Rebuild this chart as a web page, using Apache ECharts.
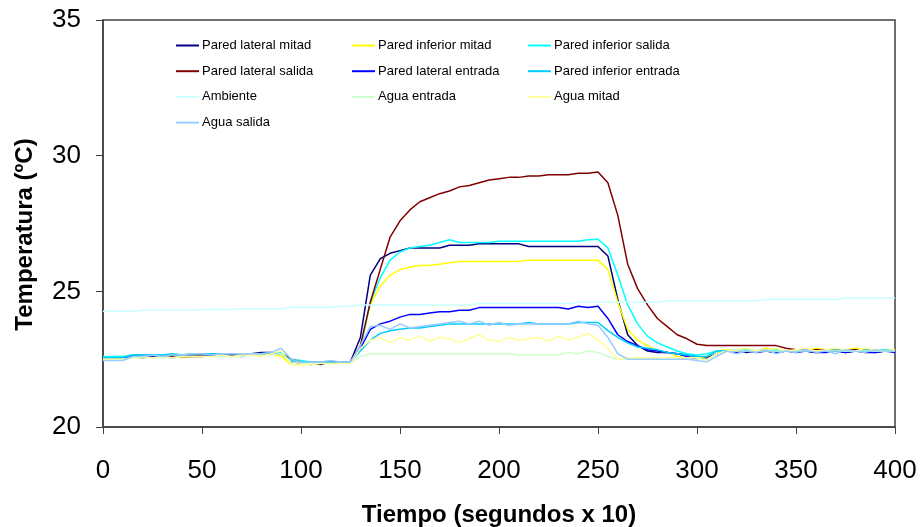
<!DOCTYPE html>
<html>
<head>
<meta charset="utf-8">
<script src="https://cdn.jsdelivr.net/npm/echarts@6/dist/echarts.min.js"></script>
<style>
  html, body { margin: 0; padding: 0; background: #fff; }
  #chart { width: 923px; height: 527px; }
</style>
</head>
<body>
<div id="chart"></div>
<script>
// eje x: tiempo (segundos x 10)
var tiempo = [0,5,10,15,20,25,30,35,40,45,
  50,55,60,65,70,75,80,85,90,95,
  100,105,110,115,120,125,130,135,140,145,
  150,155,160,165,170,175,180,185,190,195,
  200,205,210,215,220,225,230,235,240,245,
  250,255,260,265,270,275,280,285,290,295,
  300,305,310,315,320,325,330,335,340,345,
  350,355,360,365,370,375,380,385,390,395,
  400];

var paredLateralMitad = [22.5,22.5,22.5,22.65,22.65,22.65,22.6,22.65,22.65,22.65,
  22.7,22.7,22.7,22.7,22.7,22.7,22.75,22.75,22.7,22.45,
  22.4,22.35,22.3,22.4,22.35,22.4,23.3,25.6,26.2,26.4,
  26.5,26.6,26.6,26.6,26.6,26.7,26.7,26.7,26.75,26.75,
  26.75,26.75,26.75,26.65,26.65,26.65,26.65,26.65,26.65,26.65,
  26.65,26.3,24.7,23.4,23.0,22.8,22.75,22.75,22.7,22.65,
  22.6,22.55,22.7,22.8,22.8,22.75,22.8,22.8,22.75,22.8,
  22.8,22.8,22.75,22.8,22.8,22.75,22.8,22.8,22.75,22.8,
  22.8];
var paredInferiorMitad = [22.55,22.55,22.55,22.6,22.55,22.6,22.6,22.6,22.55,22.6,
  22.6,22.65,22.6,22.65,22.65,22.65,22.65,22.7,22.6,22.3,
  22.3,22.3,22.35,22.35,22.4,22.4,22.9,24.5,25.2,25.6,
  25.8,25.9,25.95,25.95,26.0,26.05,26.1,26.1,26.1,26.1,
  26.1,26.1,26.1,26.15,26.15,26.15,26.15,26.15,26.15,26.15,
  26.15,25.8,24.6,23.6,23.2,23.0,22.8,22.75,22.6,22.55,
  22.55,22.6,22.8,22.85,22.8,22.85,22.8,22.9,22.85,22.8,
  22.85,22.8,22.9,22.85,22.8,22.85,22.9,22.85,22.8,22.85,
  22.85];
var paredInferiorSalida = [22.6,22.6,22.6,22.65,22.65,22.65,22.65,22.65,22.65,22.7,
  22.7,22.7,22.7,22.7,22.7,22.7,22.7,22.7,22.75,22.5,
  22.45,22.4,22.4,22.4,22.4,22.4,22.9,24.6,25.5,26.15,
  26.45,26.6,26.65,26.7,26.8,26.9,26.8,26.8,26.8,26.8,
  26.85,26.85,26.85,26.85,26.85,26.85,26.85,26.85,26.85,26.9,
  26.92,26.6,25.6,24.5,23.8,23.35,23.1,22.95,22.8,22.7,
  22.65,22.7,22.8,22.8,22.8,22.85,22.8,22.8,22.85,22.8,
  22.85,22.8,22.8,22.85,22.8,22.8,22.85,22.8,22.8,22.85,
  22.8];
var paredLateralSalida = [22.55,22.55,22.55,22.6,22.6,22.6,22.6,22.6,22.6,22.6,
  22.65,22.65,22.65,22.65,22.65,22.7,22.7,22.7,22.7,22.5,
  22.4,22.35,22.35,22.4,22.4,22.4,23.0,24.6,25.8,27.0,
  27.6,28.0,28.3,28.45,28.6,28.7,28.85,28.9,29.0,29.1,
  29.15,29.2,29.2,29.25,29.25,29.3,29.3,29.3,29.35,29.35,
  29.4,29.0,27.8,26.0,25.1,24.5,24.0,23.7,23.4,23.25,
  23.05,23.0,23.0,23.0,23.0,23.0,23.0,23.0,23.0,22.9,
  22.85,22.85,22.85,22.85,22.85,22.85,22.85,22.85,22.8,22.8,
  22.8];
var paredLateralEntrada = [22.5,22.5,22.5,22.6,22.55,22.6,22.6,22.55,22.6,22.6,
  22.6,22.65,22.65,22.65,22.6,22.7,22.7,22.7,22.7,22.4,
  22.35,22.3,22.4,22.35,22.4,22.4,22.9,23.6,23.8,23.9,
  24.05,24.15,24.15,24.2,24.25,24.25,24.3,24.3,24.4,24.4,
  24.4,24.4,24.4,24.4,24.4,24.4,24.4,24.35,24.45,24.4,
  24.45,24.0,23.4,23.15,23.0,22.85,22.8,22.75,22.7,22.6,
  22.5,22.5,22.7,22.8,22.75,22.8,22.75,22.8,22.75,22.8,
  22.75,22.8,22.75,22.75,22.8,22.75,22.8,22.75,22.75,22.8,
  22.75];
var paredInferiorEntrada = [22.55,22.55,22.55,22.65,22.65,22.65,22.65,22.7,22.65,22.7,
  22.7,22.7,22.7,22.7,22.7,22.7,22.7,22.75,22.7,22.45,
  22.4,22.4,22.4,22.4,22.4,22.4,22.8,23.2,23.45,23.55,
  23.6,23.65,23.65,23.7,23.75,23.8,23.8,23.8,23.8,23.8,
  23.8,23.8,23.8,23.85,23.8,23.8,23.8,23.8,23.85,23.85,
  23.85,23.55,23.3,23.1,22.95,22.9,22.85,22.75,22.7,22.65,
  22.6,22.6,22.8,22.8,22.85,22.8,22.8,22.85,22.8,22.8,
  22.8,22.85,22.8,22.8,22.85,22.8,22.8,22.85,22.8,22.8,
  22.8];
var ambiente = [24.27,24.27,24.27,24.27,24.3,24.3,24.3,24.3,24.3,24.3,
  24.33,24.33,24.33,24.33,24.36,24.36,24.36,24.36,24.36,24.4,
  24.4,24.4,24.4,24.4,24.45,24.45,24.5,24.5,24.5,24.5,
  24.5,24.5,24.5,24.5,24.5,24.5,24.5,24.5,24.55,24.55,
  24.55,24.55,24.55,24.55,24.55,24.55,24.55,24.55,24.6,24.6,
  24.6,24.6,24.6,24.6,24.6,24.6,24.6,24.65,24.65,24.65,
  24.65,24.65,24.65,24.65,24.65,24.65,24.65,24.7,24.7,24.7,
  24.7,24.7,24.7,24.7,24.7,24.75,24.75,24.75,24.75,24.75,
  24.75];
var aguaEntrada = [22.5,22.5,22.5,22.55,22.55,22.55,22.55,22.55,22.6,22.6,
  22.6,22.6,22.6,22.6,22.6,22.65,22.65,22.65,22.7,22.4,
  22.35,22.35,22.35,22.35,22.35,22.35,22.6,22.7,22.7,22.7,
  22.7,22.7,22.7,22.7,22.7,22.7,22.7,22.7,22.7,22.7,
  22.7,22.7,22.65,22.65,22.65,22.65,22.65,22.75,22.7,22.8,
  22.75,22.6,22.5,22.5,22.5,22.5,22.5,22.5,22.5,22.5,
  22.5,22.5,22.7,22.8,22.8,22.8,22.8,22.8,22.8,22.8,
  22.8,22.8,22.8,22.8,22.8,22.8,22.8,22.8,22.8,22.8,
  22.8];
var aguaMitad = [22.5,22.5,22.5,22.55,22.6,22.55,22.6,22.55,22.6,22.6,
  22.6,22.6,22.65,22.6,22.65,22.65,22.6,22.7,22.8,22.3,
  22.3,22.3,22.35,22.3,22.35,22.35,22.9,23.2,23.3,23.1,
  23.3,23.2,23.35,23.15,23.3,23.25,23.1,23.25,23.4,23.2,
  23.15,23.3,23.2,23.25,23.3,23.15,23.35,23.2,23.3,23.45,
  23.2,22.9,22.5,22.55,22.55,22.55,22.55,22.55,22.55,22.55,
  22.55,22.45,22.7,22.8,22.85,22.9,22.8,22.85,22.9,22.8,
  22.85,22.9,22.8,22.85,22.9,22.85,22.8,22.9,22.85,22.8,
  22.85];
var aguaSalida = [22.45,22.45,22.45,22.6,22.6,22.65,22.6,22.65,22.65,22.7,
  22.7,22.65,22.7,22.7,22.7,22.7,22.7,22.75,22.9,22.5,
  22.4,22.4,22.4,22.45,22.4,22.4,23.0,23.7,23.75,23.6,
  23.8,23.65,23.7,23.75,23.8,23.85,23.9,23.8,23.9,23.75,
  23.85,23.75,23.8,23.8,23.8,23.8,23.8,23.8,23.9,23.8,
  23.75,23.3,22.7,22.5,22.5,22.5,22.5,22.5,22.5,22.5,
  22.45,22.4,22.6,22.8,22.7,22.8,22.75,22.85,22.7,22.8,
  22.75,22.85,22.75,22.8,22.7,22.85,22.8,22.75,22.85,22.8,
  22.8];

var nombres = ['Pared lateral mitad','Pared inferior mitad','Pared inferior salida',
  'Pared lateral salida','Pared lateral entrada','Pared inferior entrada',
  'Ambiente','Agua entrada','Agua mitad','Agua salida'];
var colores = ['#000080','#FFFF00','#00FFFF','#800000','#0000FF','#00CCFF',
  '#CCFFFF','#CCFFCC','#FFFF99','#99CCFF'];
var datos = [paredLateralMitad, paredInferiorMitad, paredInferiorSalida,
  paredLateralSalida, paredLateralEntrada, paredInferiorEntrada,
  ambiente, aguaEntrada, aguaMitad, aguaSalida];

var fuente = '"Liberation Sans", Arial, sans-serif';

var series = [];
for (var i = 0; i < nombres.length; i++) {
    series.push({
        name: nombres[i],
        type: 'line',
        symbol: 'none',
        animation: false,
        lineStyle: {width: 1.5, color: colores[i]},
        itemStyle: {color: colores[i]},
        data: tiempo.map(function (t, k) { return [t, datos[i][k]]; })
    });
}

// leyenda en tres columnas
function leyenda(left, items) {
    return {
        orient: 'vertical',
        left: left,
        top: 39,
        padding: 0,
        icon: 'rect',
        itemWidth: 23,
        itemHeight: 2,
        itemGap: 12.7,
        textStyle: {fontFamily: fuente, fontSize: 13, color: '#000', padding: [0, 0, 0, -2]},
        data: items
    };
}

var myChart = echarts.init(document.getElementById('chart'));
var option = {
    backgroundColor: '#fff',
    textStyle: {fontFamily: fuente},
    grid: {
        left: 103, right: 28, top: 20, bottom: 100,
        outerBoundsMode: 'none',
        containLabel: false,
        show: true, borderColor: '#404040', borderWidth: 1.5, backgroundColor: '#fff'
    },
    legend: [
        leyenda(176, [nombres[0], nombres[3], nombres[6], nombres[9]]),
        leyenda(352, [nombres[1], nombres[4], nombres[7]]),
        leyenda(528, [nombres[2], nombres[5], nombres[8]])
    ],
    xAxis: {
        type: 'value',
        min: 0, max: 400, interval: 50,
        name: 'Tiempo (segundos x 10)',
        nameLocation: 'middle',
        nameGap: 76,
        nameTextStyle: {fontFamily: fuente, fontSize: 24, fontWeight: 'bold', color: '#000'},
        axisLine: {lineStyle: {color: '#404040', width: 1.5}},
        axisTick: {show: true, inside: false, length: 7, lineStyle: {color: '#404040'}},
        axisLabel: {fontSize: 26, color: '#000', margin: 31, fontFamily: fuente},
        splitLine: {show: false}
    },
    yAxis: {
        type: 'value',
        min: 20, max: 35, interval: 5,
        name: 'Temperatura (ºC)',
        nameLocation: 'middle',
        nameGap: 66,
        nameTextStyle: {fontFamily: fuente, fontSize: 24, fontWeight: 'bold', color: '#000', padding: [0, 22, 0, 0]},
        axisLine: {show: true, lineStyle: {color: '#404040', width: 1.5}},
        axisTick: {show: true, inside: false, length: 7, lineStyle: {color: '#404040'}},
        axisLabel: {fontSize: 26, color: '#000', margin: 22, fontFamily: fuente},
        splitLine: {show: false}
    },
    series: series
};
myChart.setOption(option);
</script>
</body>
</html>
